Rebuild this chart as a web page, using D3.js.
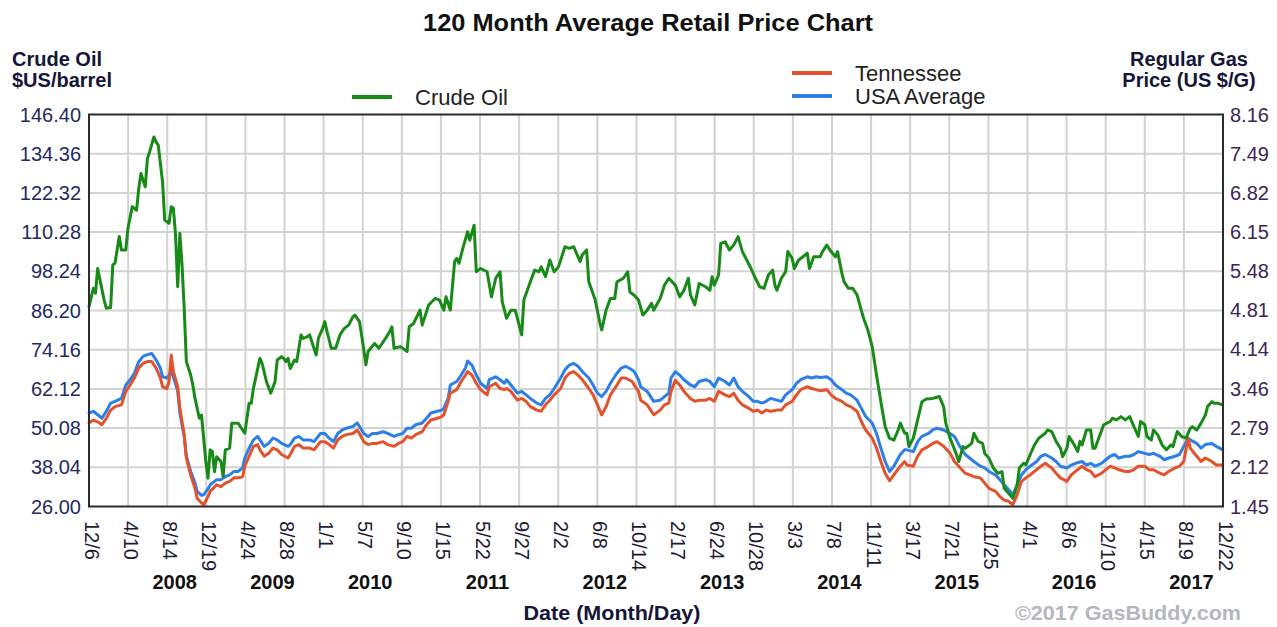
<!DOCTYPE html>
<html>
<head>
<meta charset="utf-8">
<script src="https://cdn.jsdelivr.net/npm/d3@7"></script>
<style>
  html, body { margin: 0; padding: 0; background: #fff; }
  svg { display: block; font-family: "Liberation Sans", Arial, sans-serif; }
</style>
</head>
<body>
<svg id="chart" width="1277" height="627"></svg>
<script>
// Weekly samples, counted in weeks from the first date on the axis.
const crudeWeek = [0,2,3,4,7,8,10,11,12,14,15,17,18,20,22,23,24,26,27,28,30,31,32,34,35,37,38,39,40,41,42,43,44,45,47,48,49,51,52,53,54,55,56,57,58,59,61,62,63,65,66,69,70,72,74,75,76,79,80,82,84,86,87,89,90,91,92,93,95,96,98,99,101,102,105,106,108,109,110,112,114,116,118,120,122,123,125,126,128,129,132,134,137,139,140,141,144,147,148,150,153,154,157,160,162,164,165,167,169,170,171,173,175,176,178,179,181,184,186,188,190,191,193,195,197,200,201,204,206,208,209,211,213,215,217,220,222,224,225,227,228,230,231,234,236,237,239,241,243,244,247,249,250,252,254,256,258,260,261,264,266,268,271,273,275,277,278,280,282,285,287,288,289,291,292,294,296,298,300,302,304,306,308,310,312,314,316,317,318,320,322,323,325,326,328,330,332,333,335,338,339,341,343,345,346,348,349,351,353,355,358,360,362,364,366,368,370,372,374,375,377,378,379,381,383,385,387,390,393,395,396,398,401,402,404,405,408,409,411,413,414,416,418,420,422,423,425,427,429,430,432,433,435,437,439,442,443,445,447,449,450,452,453,455,457,458,459,461,463,464,465,467,469,472,473,475,477,479,481,483,485,486,488,489,491,492,494,496,498,500,501,503,505,507,509,510,512,514,516,517,519,520,522,524];
const crudePrice = [87.4,93.0,91.5,99.1,89.4,86.9,87.1,100.2,100.7,108.9,104.8,104.8,111.4,118.1,117.0,123.7,128.3,124.2,132.9,134.9,139.5,138.0,137.0,125.7,114.0,113.0,118.1,117.6,109.4,93.5,109.9,100.2,86.9,70.5,66.4,63.3,59.2,53.1,54.1,46.9,39.8,34.7,43.4,42.9,36.7,41.3,39.8,35.2,43.4,43.9,51.6,51.6,50.5,48.5,57.7,57.7,62.3,71.5,70.0,64.4,60.8,64.4,71.0,72.0,71.5,70.5,71.5,68.4,71.0,70.5,78.7,77.6,78.2,78.7,72.5,77.6,80.7,82.8,79.7,74.6,74.6,78.7,80.7,81.7,84.3,84.8,82.8,78.7,69.5,73.6,76.1,74.6,77.6,79.7,81.2,74.6,75.1,73.6,81.2,82.2,86.3,81.7,87.9,89.9,89.4,86.3,90.4,86.3,101.2,102.2,100.7,105.8,110.4,107.8,112.4,98.1,99.1,98.1,90.4,96.1,98.1,88.9,83.8,86.3,86.3,78.7,89.4,95.0,98.6,98.1,99.6,96.6,101.7,98.1,99.6,105.8,105.3,105.8,104.3,101.2,103.3,104.8,95.0,89.4,82.8,80.2,86.3,89.9,89.9,95.0,96.1,98.1,91.9,90.9,89.4,84.8,86.3,88.4,86.3,89.9,94.0,96.1,94.0,90.4,92.4,96.1,91.0,87.9,94.5,93.5,92.4,96.6,94.0,97.1,106.8,107.3,104.8,106.3,108.9,104.3,101.7,99.1,96.1,93.5,93.0,97.1,98.6,94.0,92.4,96.1,98.1,104.3,102.2,99.1,101.7,102.7,103.8,99.1,102.7,102.7,104.3,106.3,104.3,102.7,104.3,97.6,95.0,93.0,93.0,91.0,83.8,80.2,75.1,66.4,58.2,50.5,47.0,46.4,49.5,51.6,48.5,48.5,44.4,47.0,52.6,58.2,59.0,59.2,59.8,56.7,51.6,47.0,41.9,39.8,44.4,43.9,45.4,48.5,46.0,45.4,42.3,40.8,37.8,36.2,36.7,31.6,30.1,28.5,32.6,37.8,39.3,38.8,41.9,44.9,47.0,48.5,49.5,49.0,46.0,43.9,41.3,43.9,47.5,45.4,42.9,46.0,44.9,49.5,49.5,43.9,43.9,47.5,51.1,52.1,53.1,52.6,53.6,52.6,53.6,50.5,47.5,52.1,51.1,47.5,46.4,49.5,48.0,44.9,43.4,44.9,44.4,49.0,47.5,47.0,50.0,50.5,49.5,51.6,54.1,56.7,58.2,57.7,57.7,57.2];

const gasWeek = [0,2,4,6,8,10,12,15,17,19,21,23,25,27,29,31,33,34,36,37,38,39,41,42,44,45,47,49,50,52,53,55,56,59,61,63,65,67,69,71,72,74,76,78,79,81,83,85,87,89,92,93,95,97,99,102,104,107,109,111,113,115,117,119,122,124,125,127,129,131,133,136,138,141,143,145,147,149,151,154,156,158,161,163,164,166,167,170,172,174,175,177,179,181,184,185,188,190,192,193,195,198,200,202,204,207,209,211,213,215,218,220,222,224,226,228,231,233,235,237,239,241,244,246,248,251,252,254,255,258,261,264,266,268,269,271,273,275,278,280,282,285,287,289,291,294,296,298,300,302,305,307,309,311,313,315,318,320,322,325,327,329,332,334,336,338,341,343,345,348,350,352,355,357,359,362,364,366,368,370,372,375,377,378,381,383,385,388,390,392,395,398,400,402,405,407,409,412,414,416,419,421,423,425,427,429,431,433,435,438,440,442,445,447,449,452,454,456,459,461,463,465,468,470,472,474,476,479,481,483,485,488,490,492,495,497,499,502,504,506,508,509,512,514,516,519,521,524];
const usaAverage = [3.05,3.08,3.02,2.96,3.08,3.22,3.25,3.30,3.53,3.62,3.73,3.93,4.02,4.05,4.07,3.96,3.82,3.67,3.65,3.70,3.76,3.67,3.42,3.05,2.65,2.31,2.05,1.85,1.71,1.64,1.65,1.75,1.82,1.91,1.91,1.96,1.99,2.05,2.05,2.11,2.28,2.45,2.59,2.65,2.59,2.48,2.53,2.62,2.59,2.53,2.48,2.51,2.62,2.65,2.59,2.59,2.56,2.70,2.70,2.62,2.56,2.70,2.76,2.79,2.82,2.88,2.82,2.70,2.65,2.70,2.70,2.73,2.70,2.65,2.68,2.70,2.79,2.79,2.85,2.88,2.96,3.05,3.08,3.10,3.13,3.30,3.53,3.59,3.70,3.82,3.94,3.87,3.70,3.56,3.47,3.62,3.67,3.62,3.56,3.62,3.53,3.39,3.42,3.36,3.30,3.22,3.19,3.30,3.36,3.47,3.65,3.79,3.87,3.90,3.85,3.76,3.65,3.53,3.39,3.33,3.42,3.56,3.73,3.82,3.85,3.79,3.76,3.62,3.50,3.42,3.25,3.27,3.33,3.39,3.65,3.76,3.70,3.62,3.53,3.50,3.59,3.62,3.59,3.50,3.65,3.59,3.53,3.65,3.50,3.42,3.33,3.25,3.25,3.22,3.25,3.30,3.27,3.25,3.36,3.45,3.56,3.62,3.67,3.65,3.67,3.66,3.67,3.62,3.53,3.45,3.39,3.36,3.27,3.13,2.99,2.88,2.70,2.45,2.22,2.05,2.14,2.34,2.42,2.42,2.39,2.56,2.65,2.70,2.76,2.79,2.76,2.70,2.65,2.51,2.34,2.28,2.22,2.14,2.11,2.05,1.99,1.91,1.82,1.74,1.65,1.82,1.99,2.08,2.14,2.22,2.31,2.34,2.28,2.22,2.14,2.11,2.16,2.19,2.22,2.16,2.19,2.14,2.19,2.25,2.31,2.34,2.28,2.31,2.31,2.34,2.39,2.36,2.34,2.36,2.31,2.25,2.28,2.31,2.34,2.48,2.62,2.59,2.53,2.45,2.51,2.53,2.48,2.42];
const tennessee = [2.88,2.93,2.90,2.85,2.96,3.10,3.16,3.19,3.42,3.53,3.65,3.82,3.90,3.93,3.93,3.82,3.65,3.50,3.47,3.59,4.04,3.76,3.50,3.13,2.68,2.28,1.99,1.76,1.59,1.51,1.48,1.62,1.71,1.82,1.79,1.85,1.88,1.94,1.94,1.96,2.14,2.31,2.48,2.51,2.42,2.31,2.36,2.45,2.42,2.34,2.28,2.34,2.48,2.51,2.45,2.45,2.42,2.56,2.56,2.51,2.45,2.59,2.65,2.68,2.70,2.76,2.70,2.56,2.51,2.53,2.53,2.56,2.51,2.48,2.53,2.56,2.65,2.62,2.68,2.73,2.85,2.93,2.96,2.99,3.02,3.25,3.39,3.45,3.59,3.70,3.76,3.70,3.56,3.45,3.36,3.50,3.56,3.47,3.45,3.47,3.42,3.27,3.30,3.25,3.16,3.10,3.08,3.19,3.27,3.36,3.47,3.65,3.73,3.76,3.70,3.62,3.47,3.36,3.19,3.02,3.16,3.36,3.53,3.65,3.65,3.59,3.53,3.42,3.27,3.19,3.02,3.10,3.19,3.22,3.42,3.61,3.53,3.42,3.30,3.25,3.27,3.27,3.30,3.25,3.42,3.36,3.33,3.39,3.27,3.19,3.13,3.08,3.10,3.05,3.10,3.08,3.10,3.10,3.19,3.25,3.36,3.45,3.50,3.47,3.45,3.43,3.45,3.36,3.30,3.25,3.19,3.16,3.08,2.90,2.76,2.62,2.45,2.22,2.02,1.89,1.99,2.14,2.22,2.16,2.14,2.31,2.42,2.48,2.53,2.56,2.48,2.36,2.22,2.14,2.02,1.99,1.96,1.94,1.85,1.76,1.71,1.62,1.56,1.54,1.48,1.65,1.88,1.94,1.99,2.08,2.14,2.19,2.11,2.02,1.94,1.88,1.99,2.05,2.14,2.08,2.05,1.96,2.02,2.08,2.14,2.11,2.08,2.05,2.05,2.08,2.14,2.14,2.08,2.08,2.02,1.99,2.05,2.11,2.14,2.22,2.62,2.45,2.31,2.22,2.28,2.22,2.16,2.16];

// Axis ticks
const crudeTicks = ["146.40","134.36","122.32","110.28","98.24","86.20","74.16","62.12","50.08","38.04","26.00"];
const gasTicks = ["8.16","7.49","6.82","6.15","5.48","4.81","4.14","3.46","2.79","2.12","1.45"];
const dateTickLabels = ["12/6","4/10","8/14","12/19","4/24","8/28","1/1","5/7","9/10","1/15","5/22","9/27","2/2","6/8","10/14","2/17","6/24","10/28","3/3","7/8","11/11","3/17","7/21","11/25","4/1","8/6","12/10","4/15","8/19","12/22"];
const dateTickYears = [2007,2008,2008,2008,2009,2009,2010,2010,2010,2011,2011,2011,2012,2012,2012,2013,2013,2013,2014,2014,2014,2015,2015,2015,2016,2016,2016,2017,2017,2017];
const yearLabels = [2008,2009,2010,2011,2012,2013,2014,2015,2016,2017];

const startDate = new Date(Date.UTC(2007, 11, 6));
const endDate = new Date(Date.UTC(2017, 11, 22));

const svg = d3.select("#chart");
const plot = { left: 89, right: 1223, top: 114.5, bottom: 506.5 };

const x = d3.scaleUtc().domain([startDate, endDate]).range([plot.left, plot.right]);
const yCrude = d3.scaleLinear().domain([+crudeTicks[crudeTicks.length - 1], +crudeTicks[0]]).range([plot.bottom, plot.top]);
const yGas = d3.scaleLinear().domain([+gasTicks[gasTicks.length - 1], +gasTicks[0]]).range([plot.bottom, plot.top]);

const weekDate = w => d3.utcDay.offset(startDate, w * 7);
const tickDates = dateTickLabels.map((_, i) =>
  new Date(+startDate + i * (endDate - startDate) / (dateTickLabels.length - 1)));

// Title
svg.append("text")
  .attr("x", 423).attr("y", 31)
  .attr("textLength", 450).attr("lengthAdjust", "spacingAndGlyphs")
  .attr("font-size", 24).attr("font-weight", "bold").attr("fill", "#111")
  .text("120 Month Average Retail Price Chart");

// Axis titles
const axisTitle = (lines, xPos, anchor) => {
  lines.forEach((t, i) => {
    svg.append("text")
      .attr("x", xPos).attr("y", 66 + i * 20.5)
      .attr("text-anchor", anchor)
      .attr("font-size", 20).attr("font-weight", "bold").attr("fill", "#15153a")
      .text(t);
  });
};
axisTitle(["Crude Oil", "$US/barrel"], 12, "start");
axisTitle(["Regular Gas", "Price (US $/G)"], 1189, "middle");

// Grid
const grid = svg.append("g").attr("stroke", "#d3d3d3").attr("stroke-width", 2);
grid.selectAll("line.v").data(tickDates.slice(1, -1)).join("line")
  .attr("x1", d => x(d)).attr("x2", d => x(d))
  .attr("y1", plot.top).attr("y2", plot.bottom);
grid.selectAll("line.h").data(crudeTicks.slice(1, -1)).join("line")
  .attr("x1", plot.left).attr("x2", plot.right)
  .attr("y1", d => yCrude(+d)).attr("y2", d => yCrude(+d));

// Left axis labels
svg.append("g").selectAll("text").data(crudeTicks).join("text")
  .attr("x", 81).attr("y", d => yCrude(+d) + 7)
  .attr("text-anchor", "end").attr("font-size", 20).attr("fill", "#222a62")
  .text(d => d);

// Right axis labels
svg.append("g").selectAll("text").data(gasTicks).join("text")
  .attr("x", 1230).attr("y", d => yGas(+d) + 7)
  .attr("text-anchor", "start").attr("font-size", 20).attr("fill", "#3c2458")
  .text(d => d);

// Date tick labels, rotated
svg.append("g").selectAll("text").data(dateTickLabels).join("text")
  .attr("transform", (d, i) => `translate(${x(tickDates[i]) + 2.5},521) rotate(90)`)
  .attr("dominant-baseline", "central")
  .attr("font-size", 20).attr("fill", "#1e1a33")
  .text(d => d);

// Year labels, centred under each year's date ticks
svg.append("g").selectAll("text").data(yearLabels).join("text")
  .attr("x", yr => d3.mean(tickDates.filter((_, i) => dateTickYears[i] === yr), d => x(d)) + 7.5)
  .attr("y", 589)
  .attr("text-anchor", "middle").attr("font-size", 20).attr("font-weight", "bold").attr("fill", "#111")
  .text(yr => yr);

svg.append("text")
  .attr("x", 612).attr("y", 620).attr("text-anchor", "middle")
  .attr("textLength", 177).attr("lengthAdjust", "spacingAndGlyphs")
  .attr("font-size", 20).attr("font-weight", "bold").attr("fill", "#15153a")
  .text("Date (Month/Day)");

svg.append("text")
  .attr("x", 1015).attr("y", 620)
  .attr("textLength", 226).attr("lengthAdjust", "spacingAndGlyphs")
  .attr("font-size", 21).attr("font-weight", "bold").attr("fill", "#b6b6be")
  .text("\u00A92017 GasBuddy.com");

// Series
const gasLine = values => d3.line()
  .x((w, i) => x(weekDate(w)))
  .y((w, i) => yGas(values[i]));
const crudeLine = d3.line()
  .x(w => x(weekDate(w)))
  .y((w, i) => yCrude(crudePrice[i]));

const series = svg.append("g").attr("fill", "none").attr("stroke-width", 3)
  .attr("stroke-linejoin", "round").attr("stroke-linecap", "round");
series.append("path").attr("stroke", "#2d7fe8").attr("d", gasLine(usaAverage)(gasWeek));
series.append("path").attr("stroke", "#e4522c").attr("d", gasLine(tennessee)(gasWeek));
series.append("path").attr("stroke", "#178a17").attr("d", crudeLine(crudeWeek));

// Plot frame
svg.append("rect")
  .attr("x", plot.left).attr("y", plot.top)
  .attr("width", plot.right - plot.left).attr("height", plot.bottom - plot.top)
  .attr("fill", "none").attr("stroke", "#2b2b2b").attr("stroke-width", 2);

// Legend
const legend = [
  { name: "Crude Oil", color: "#178a17", x: 352, y: 97 },
  { name: "Tennessee", color: "#e4522c", x: 792, y: 73 },
  { name: "USA Average", color: "#2d7fe8", x: 792, y: 96 }
];
const lg = svg.append("g").selectAll("g").data(legend).join("g");
lg.append("line")
  .attr("x1", d => d.x).attr("x2", d => d.x + 40)
  .attr("y1", d => d.y).attr("y2", d => d.y)
  .attr("stroke", d => d.color).attr("stroke-width", 4);
lg.append("text")
  .attr("x", d => d.x + 63).attr("y", d => d.y + 7.5)
  .attr("font-size", 22).attr("fill", "#222")
  .text(d => d.name);
</script>
</body>
</html>
